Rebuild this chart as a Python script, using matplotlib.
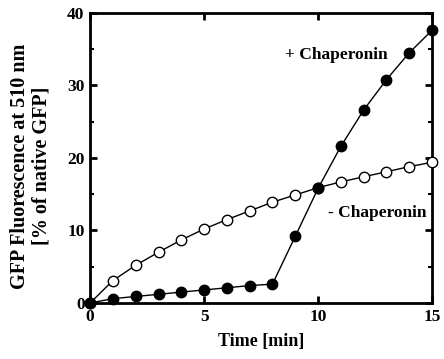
import numpy as np
import matplotlib.pyplot as plt

plt.rcParams['font.family'] = ['Liberation Serif', 'DejaVu Serif']
plt.rcParams['font.weight'] = 'bold'

time_min = np.arange(0, 16)
with_chap = [0, 0.6, 0.9, 1.2, 1.5, 1.8, 2.1, 2.4, 2.6, 9.2, 15.8, 21.6, 26.6, 30.8, 34.5, 37.6]
without_chap = [0, 3.1, 5.2, 7.0, 8.7, 10.2, 11.5, 12.7, 13.9, 14.9, 15.9, 16.7, 17.4, 18.1, 18.8, 19.4]

fig = plt.figure(figsize=(4.44, 3.59), dpi=100)
ax = fig.add_axes([0.203, 0.156, 0.77, 0.808])

ax.plot(time_min, without_chap, color='black', lw=1, marker='o', ms=7.5,
        mfc='white', mec='black', mew=1, clip_on=False, zorder=3)
ax.plot(time_min, with_chap, color='black', lw=1, marker='o', ms=7.5,
        mfc='black', mec='black', clip_on=False, zorder=4)

ax.set_xlim(0, 15)
ax.set_ylim(0, 40)
ax.set_xticks([0, 5, 10, 15])
ax.set_yticks([0, 10, 20, 30, 40])
ax.set_yticks([5, 15, 25, 35], minor=True)
ax.tick_params(which='both', direction='in', top=True, right=True, labelsize=12.5, pad=4)
ax.tick_params(which='major', length=5, width=2)
ax.tick_params(which='minor', length=3, width=1.5)
for s in ax.spines.values():
    s.set_linewidth(2)

ax.text(10.8, 34.2, '+ Chaperonin', ha='center', va='center', fontsize=12.5, fontweight='bold')
ax.text(12.6, 12.4, '- Chaperonin', ha='center', va='center', fontsize=12.5, fontweight='bold')

ax.set_xlabel('Time [min]', fontsize=13, fontweight='bold', labelpad=6)
ax.set_ylabel('GFP Fluorescence at 510 nm\n[% of native GFP]', fontsize=14.5, fontweight='bold',
              linespacing=1.15, labelpad=11, y=0.472)

fig.savefig('out.png', dpi=100)
